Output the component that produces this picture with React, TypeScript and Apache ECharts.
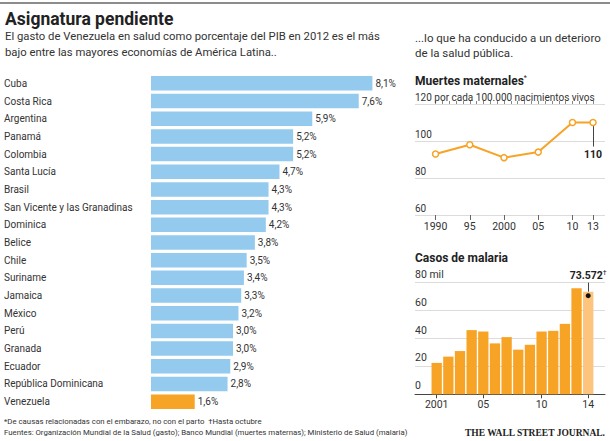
import React, { useEffect, useRef } from "react";
import * as echarts from "echarts";

const countries = [
  "Cuba", "Costa Rica", "Argentina", "Panamá", "Colombia", "Santa Lucía", "Brasil",
  "San Vicente y las Granadinas", "Dominica", "Belice", "Chile", "Suriname", "Jamaica",
  "México", "Perú", "Granada", "Ecuador", "República Dominicana", "Venezuela",
];
const spending = [8.1, 7.6, 5.9, 5.2, 5.2, 4.7, 4.3, 4.3, 4.2, 3.8, 3.5, 3.4, 3.3, 3.2, 3.0, 3.0, 2.9, 2.8, 1.6];

const mmYears = [1990, 1995, 2000, 2005, 2010, 2013];
const mmValues = [93, 98, 91, 94, 110, 110];
const mmTickLabels = ["1990", "95", "2000", "05", "10", "13"];

const malariaYears = [2001, 2002, 2003, 2004, 2005, 2006, 2007, 2008, 2009, 2010, 2011, 2012, 2013, 2014];
const malariaValues = [22.5, 27, 31, 46, 45, 36.5, 41, 32, 35.5, 45, 45.5, 50.5, 76, 73.572];
const malariaTickYears = [2001, 2005, 2010, 2014];
const malariaTickLabels = ["2001", "05", "10", "14"];

const FONT = "Roboto, sans-serif";
const BLUE = "#93caee";
const ORANGE = "#f7a325";
const LIGHT_ORANGE = "#fcc47c";
const TEXT = "#333";

export default function App() {
  const ref = useRef<HTMLDivElement>(null);
  useEffect(() => {
    if (!ref.current) return;
    const chart = echarts.init(ref.current, undefined, { renderer: "svg" });
    const lastIdx = malariaValues.length - 1;
    const mmLast = mmValues.length - 1;
    const option: any = {
      animation: false,
      backgroundColor: "#fff",
      textStyle: { fontFamily: FONT },
      grid: [
        { left: 151, top: 74.5, width: 246, height: 336 },
        { left: 415, top: 104, width: 190, height: 111 },
        { left: 415, top: 282.7, width: 190, height: 111.6 },
      ],
      xAxis: [
        { type: "value", gridIndex: 0, min: 0, max: 9, show: false },
        {
          type: "value", gridIndex: 1, min: 1987, max: 2014.75,
          axisLine: { show: false }, splitLine: { show: false },
          axisTick: { show: true, customValues: mmYears, length: 5, lineStyle: { color: "#666" } },
          axisLabel: {
            customValues: mmYears, color: TEXT, fontSize: 10.5, fontFamily: FONT, margin: 6,
            formatter: (v: number) => mmTickLabels[mmYears.indexOf(v)] ?? "",
          },
        },
        {
          type: "value", gridIndex: 1, min: 1987, max: 2014.75,
          axisLine: { show: false }, splitLine: { show: false },
          axisTick: { show: true, customValues: Array.from({ length: 24 }, (_, i) => 1990 + i), length: 3, lineStyle: { color: "#888" } },
          axisLabel: { show: false },
        },
        {
          type: "value", gridIndex: 2, min: 1999.14, max: 2015.44,
          axisLine: { show: true, onZero: false, lineStyle: { color: "#444", width: 1 } },
          splitLine: { show: false },
          axisTick: { show: true, customValues: malariaTickYears, length: 4, lineStyle: { color: "#444" } },
          axisLabel: {
            customValues: malariaTickYears, color: TEXT, fontSize: 10.5, fontFamily: FONT, margin: 5,
            formatter: (v: number) => malariaTickLabels[malariaTickYears.indexOf(v)] ?? "",
          },
        },
      ],
      yAxis: [
        {
          type: "category", gridIndex: 0, data: countries, inverse: true,
          axisLine: { show: false }, axisTick: { show: false },
          axisLabel: { align: "left", margin: 147, color: TEXT, fontSize: 10, fontFamily: FONT },
        },
        {
          type: "value", gridIndex: 1, min: 60, max: 120, interval: 20,
          axisLine: { show: false }, axisTick: { show: false },
          splitLine: { lineStyle: { color: "#dcdcdc" } },
          axisLabel: {
            inside: true, verticalAlign: "bottom", margin: 0, padding: [0, 0, 2, 0],
            color: TEXT, fontSize: 10, fontFamily: FONT,
            formatter: (v: number) => (v === 120 ? "120 por cada 100.000 nacimientos vivos" : String(v)),
          },
        },
        {
          type: "value", gridIndex: 2, min: 0, max: 80, interval: 20,
          axisLine: { show: false }, axisTick: { show: false },
          splitLine: { lineStyle: { color: "#dcdcdc" } },
          axisLabel: {
            inside: true, verticalAlign: "bottom", margin: 0, padding: [0, 0, 3, 0],
            color: TEXT, fontSize: 10.5, fontFamily: FONT,
            formatter: (v: number) => (v === 80 ? "80 mil" : String(v)),
          },
        },
      ],
      series: [
        {
          type: "bar", xAxisIndex: 0, yAxisIndex: 0,
          barCategoryGap: "18%",
          data: spending.map((v, i) => ({
            value: v,
            itemStyle: { color: countries[i] === "Venezuela" ? ORANGE : BLUE },
          })),
          label: {
            show: true, position: "right", distance: 3, color: TEXT, fontSize: 10, fontFamily: FONT,
            formatter: (p: any) => p.value.toFixed(1).replace(".", ",") + "%",
          },
        },
        {
          type: "line", xAxisIndex: 1, yAxisIndex: 1,
          data: mmYears.map((y, i) => [y, mmValues[i]]),
          symbol: "circle", symbolSize: 6, showSymbol: true,
          lineStyle: { color: ORANGE, width: 2 },
          itemStyle: { color: "#fff", borderColor: ORANGE, borderWidth: 1.5 },
          z: 3,
          markLine: {
            silent: true, symbol: ["none", "none"], z: 1,
            lineStyle: { color: "#444", width: 1, type: "solid" },
            label: { show: true, position: "end", distance: 2, color: "#222", fontWeight: "bold", fontSize: 10.5, fontFamily: FONT, formatter: String(mmValues[mmLast]) },
            data: [[{ coord: [mmYears[mmLast], mmValues[mmLast]] }, { coord: [mmYears[mmLast], 97] }]],
          },
        },
        {
          type: "bar", xAxisIndex: 3, yAxisIndex: 2,
          barWidth: 10.3,
          data: malariaYears.map((y, i) => ({
            value: [y, malariaValues[i]],
            itemStyle: { color: i === lastIdx ? LIGHT_ORANGE : ORANGE },
          })),
          markLine: {
            silent: true, symbol: ["none", "none"],
            lineStyle: { color: "#444", width: 1, type: "solid" },
            label: {
              show: true, position: "end", distance: 1,
              formatter: "{b|" + malariaValues[lastIdx].toFixed(3) + "}{s|†}",
              rich: {
                b: { color: "#222", fontWeight: "bold", fontSize: 10.5, fontFamily: FONT },
                s: { color: "#222", fontSize: 7, fontFamily: FONT, verticalAlign: "top", padding: [0, 0, 5, 0] },
              },
            },
            data: [[{ coord: [malariaYears[lastIdx], malariaValues[lastIdx]] }, { coord: [malariaYears[lastIdx], 80] }]],
          },
          markPoint: {
            silent: true, symbol: "circle", symbolSize: 5, symbolOffset: [0, 4],
            itemStyle: { color: "#111" }, label: { show: false },
            data: [{ coord: [malariaYears[lastIdx], malariaValues[lastIdx]] }],
          },
        },
      ],
      graphic: [
        { type: "rect", shape: { x: 0, y: 2, width: 610, height: 2 }, style: { fill: "#8c8c8c" } },
        { type: "text", x: 5, y: 10, style: { text: "Asignatura pendiente", fontSize: 17.5, fontWeight: "bold", fontFamily: FONT, fill: "#222" } },
        { type: "text", x: 5, y: 31, style: { text: "El gasto de Venezuela en salud como porcentaje del PIB en 2012 es el más", fontSize: 11.3, fontFamily: FONT, fill: TEXT } },
        { type: "text", x: 5, y: 47, style: { text: "bajo entre las mayores economías de América Latina..", fontSize: 11.3, fontFamily: FONT, fill: TEXT } },
        { type: "text", x: 415, y: 32, style: { text: "...lo que ha conducido a un deterioro", fontSize: 11.5, fontFamily: FONT, fill: TEXT } },
        { type: "text", x: 415, y: 47, style: { text: "de la salud pública.", fontSize: 11.5, fontFamily: FONT, fill: TEXT } },
        {
          type: "text", x: 415, y: 74,
          style: {
            text: "{b|Muertes maternales}{s|*}",
            rich: { b: { fontSize: 12, fontWeight: "bold", fontFamily: FONT, fill: "#222" }, s: { fontSize: 7, fontFamily: FONT, fill: "#222", verticalAlign: "top", padding: [0, 0, 6, 0] } },
          },
        },
        { type: "text", x: 415, y: 252, style: { text: "Casos de malaria", fontSize: 12, fontWeight: "bold", fontFamily: FONT, fill: "#222" } },
        { type: "text", x: 4, y: 417, style: { text: "*De causas relacionadas con el embarazo, no con el parto  †Hasta octubre", fontSize: 7.8, fontFamily: FONT, fill: TEXT } },
        { type: "text", x: 4, y: 428, style: { text: "Fuentes: Organización Mundial de la Salud (gasto); Banco Mundial (muertes maternas); Ministerio de Salud (malaria)", fontSize: 7.8, fontFamily: FONT, fill: TEXT } },
        { type: "text", x: 605, y: 428, style: { text: "THE WALL STREET JOURNAL.", align: "right", fontSize: 9.5, fontWeight: "bold", fontFamily: "'Liberation Serif', 'DejaVu Serif', serif", fill: "#222" } },
      ],
    };
    chart.setOption(option);
    return () => chart.dispose();
  }, []);
  return <div ref={ref} style={{ position: "fixed", left: 0, top: 0, width: 610, height: 441 }} />;
}
